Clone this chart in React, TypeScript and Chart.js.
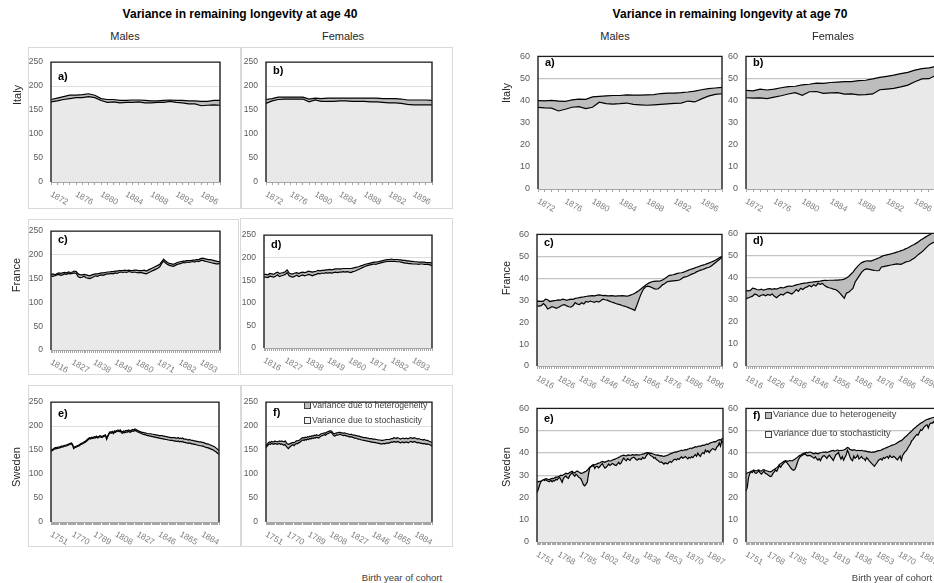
import React, { useEffect, useRef } from "react";
import { Chart, registerables } from "chart.js";

Chart.register(...registerables);

// ---------- categories ----------
const range = (a: number, b: number) => {
  const out: string[] = [];
  for (let y = a; y <= b; y++) out.push(String(y));
  return out;
};
const italyYears = range(1872, 1899);
const franceYears = range(1816, 1903);
const swedenYears = range(1751, 1899);

// ---------- Age 40: Italy ----------
const it40M_stoch = [167,169,172,174,176,176,178,176,170,166,167,165,166,166,167,165,165,166,166,168,166,165,163,163,159,160,161,160];
const it40M_total = [172,175,178,181,181,182,184,181,174,172,172,170,170,171,171,170,169,169,170,171,170,170,169,169,168,168,170,170];
const it40F_stoch = [164,169,172,173,173,173,173,167,171,168,168,168,169,169,168,168,168,167,167,166,165,165,164,162,161,161,161,161];
const it40F_total = [172,174,177,177,177,177,177,173,175,174,175,175,175,175,175,175,175,175,175,174,174,174,173,171,171,171,171,170];

// ---------- Age 40: France ----------
const fr40M_stoch = [
  156,155,156,158,159,157,158,160,159,161,
  160,161,162,161,154,152,153,155,152,151,
  150,152,154,156,155,157,158,157,159,160,
  160,161,160,162,161,163,164,163,164,163,
  165,164,163,164,163,162,163,162,161,160,
  162,164,166,168,170,172,175,182,187,183,
  180,178,177,176,178,180,181,182,184,183,
  185,184,185,186,185,187,186,188,189,187,
  186,185,184,183,182,181,181,182];
const fr40M_total = [
  159,160,158,160,162,161,162,163,162,164,
  163,164,166,165,160,158,158,159,158,157,
  156,158,159,160,160,161,162,162,163,164,
  164,165,165,166,166,167,167,167,168,167,
  168,167,167,168,168,167,167,167,168,166,
  168,170,172,174,176,178,180,186,191,187,
  184,182,181,180,182,184,185,186,187,187,
  188,188,188,189,189,190,190,192,193,192,
  191,190,190,189,188,187,186,186];
const fr40F_stoch = [
  157,157,156,159,158,157,159,162,158,160,
  161,163,167,160,158,157,159,161,158,160,
  162,160,161,163,162,160,162,163,165,164,
  166,165,167,166,167,166,167,168,167,168,
  168,169,168,169,168,167,169,170,172,174,
  176,178,180,182,183,184,185,186,185,187,
  188,189,190,191,192,192,192,192,192,191,
  191,190,189,188,188,187,187,186,186,186,
  185,186,186,185,185,185,184,182];
const fr40F_total = [
  163,163,162,165,164,163,166,168,165,166,
  167,169,173,166,164,164,166,167,165,167,
  168,167,168,170,169,168,169,170,172,171,
  172,172,173,173,174,173,174,175,175,175,
  175,176,176,176,176,176,177,178,179,180,
  182,183,185,186,187,188,189,190,190,191,
  192,193,194,195,196,196,197,196,196,196,
  195,195,194,194,193,193,192,192,191,191,
  190,190,190,190,189,189,189,188];

// ---------- Age 40: Sweden ----------
const sw40M_stoch = [
  147,149,150,152,153,153,154,154,155,156,
  156,157,158,158,159,160,161,162,163,160,
  153,155,156,157,158,159,161,162,163,165,
  166,168,170,172,174,173,175,174,176,175,
  177,175,176,178,177,176,178,179,180,172,
  178,183,186,185,187,184,188,187,189,190,
  188,190,186,185,187,186,188,187,189,188,
  187,189,190,189,191,190,188,187,186,185,
  184,183,182,182,181,180,180,179,179,178,
  178,177,177,176,176,175,175,174,174,173,
  173,172,172,171,171,170,170,170,169,169,
  168,168,169,167,168,167,168,166,166,165,
  165,164,165,164,163,163,162,162,161,160,
  160,159,159,158,158,157,156,155,155,154,
  153,152,151,150,148,147,145,143,141];
const sw40M_total = [
  149,151,152,154,155,155,156,156,157,158,
  158,159,160,160,161,162,163,164,165,162,
  155,157,158,159,160,161,163,164,165,167,
  168,170,172,174,176,175,177,176,178,177,
  179,177,178,180,179,178,180,181,182,174,
  180,185,188,187,189,186,190,189,191,192,
  190,192,189,188,190,189,191,190,192,191,
  190,192,193,192,194,193,191,190,189,188,
  187,187,186,186,185,184,184,184,184,183,
  183,182,182,181,181,180,180,180,180,179,
  179,178,178,177,177,176,176,176,176,176,
  175,175,176,174,175,174,175,173,173,173,
  172,171,172,171,170,170,169,169,168,168,
  167,167,167,166,166,165,164,163,163,162,
  161,160,159,158,157,155,153,151,149];
const sw40F_stoch = [
  155,158,161,163,162,164,163,162,164,163,
  162,163,164,162,163,161,160,162,158,155,
  153,156,158,160,161,159,162,164,163,165,
  166,168,170,171,170,172,171,173,172,174,
  173,175,174,176,175,177,176,175,177,179,
  180,181,182,181,183,184,185,186,187,185,
  181,179,180,182,181,182,183,182,181,180,
  181,180,179,179,178,177,178,177,176,175,
  175,174,173,173,172,171,171,170,170,169,
  169,168,168,167,167,166,166,166,165,165,
  164,164,163,163,163,164,163,164,165,164,
  165,166,167,166,168,167,166,168,167,166,
  165,166,167,165,166,167,166,165,167,168,
  167,166,168,167,166,165,166,165,164,164,
  163,164,163,162,163,162,161,160,158];
const sw40F_total = [
  158,162,165,167,166,168,167,167,169,168,
  167,168,169,168,169,168,167,169,166,163,
  162,163,164,165,166,165,167,169,169,170,
  171,173,175,176,175,177,176,178,177,179,
  178,180,179,181,180,182,181,180,182,184,
  184,185,186,185,187,188,189,190,190,188,
  185,184,185,186,186,187,187,186,186,185,
  186,185,184,184,183,182,183,182,181,181,
  180,180,179,179,178,177,177,176,176,176,
  175,175,174,174,174,173,173,173,172,172,
  171,171,171,170,170,171,171,172,172,172,
  172,173,174,174,176,175,174,176,175,174,
  173,174,175,174,174,175,174,174,175,176,
  175,174,176,175,174,173,174,173,172,172,
  171,172,171,170,170,169,168,167,165];

// ---------- Age 70: Italy ----------
const it70M_stoch = [36.9,36.7,36.6,35.3,36.1,37.0,37.3,36.4,37.0,39.3,38.6,38.4,38.6,38.9,38.3,38.1,37.9,38.1,38.3,38.5,38.7,38.9,39.8,39.4,40.8,42.0,42.8,43.1];
const it70M_total = [40.0,39.9,40.1,39.8,39.6,40.3,40.7,40.6,41.7,41.9,42.1,42.3,42.3,42.6,42.5,42.5,42.6,42.7,43.2,43.4,43.4,43.6,43.9,44.3,44.9,45.4,45.7,46.0];
const it70F_stoch = [41.3,41.1,41.2,40.9,41.6,42.2,43.0,43.6,42.4,44.0,44.1,43.3,43.5,43.6,42.9,43.0,42.6,42.7,43.0,44.9,45.2,45.5,46.2,47.0,48.5,49.8,49.9,51.5];
const it70F_total = [44.6,44.4,45.2,44.8,45.2,45.8,46.3,46.5,47.1,47.4,47.9,47.8,48.2,48.4,48.6,48.6,49.0,49.2,49.8,50.5,51.0,51.5,52.2,52.8,53.8,54.5,54.8,55.5];

// ---------- Age 70: France ----------
const fr70M_stoch = [
  27.4,27.3,27.5,28.5,27.6,26.0,26.4,27.1,26.8,26.3,
  26.7,27.2,27.8,28.0,27.4,27.0,26.8,27.6,28.9,28.2,
  28.0,28.8,28.3,29.4,29.1,29.6,29.3,29.0,29.5,29.1,
  29.8,30.5,30.2,30.0,29.6,29.2,28.9,28.5,28.2,28.0,
  27.6,27.3,27.0,26.6,26.2,25.8,25.3,27.8,30.5,33.0,
  35.0,36.0,36.4,36.2,35.8,35.3,35.0,35.2,36.0,37.0,
  37.5,38.3,38.6,38.7,38.8,38.9,39.0,39.2,39.8,40.5,
  40.6,41.0,41.5,42.0,42.3,42.9,43.3,43.7,44.0,44.4,
  44.8,45.0,45.6,46.4,47.2,48.0,48.8,49.6];
const fr70M_total = [
  29.6,29.5,29.4,29.6,30.5,30.2,29.4,29.6,29.8,29.9,
  30.1,30.0,30.5,30.3,29.9,30.3,30.5,30.4,30.8,31.0,
  31.2,31.4,31.5,31.7,31.9,32.0,32.1,32.0,32.2,32.4,
  32.3,32.1,32.2,32.0,32.0,32.1,32.0,31.9,32.0,32.0,
  32.1,32.0,31.9,32.0,32.3,32.7,33.2,33.8,34.4,35.2,
  36.0,36.8,37.5,38.0,38.4,38.6,38.7,38.7,38.8,39.2,
  39.8,40.5,41.2,41.4,41.6,41.9,42.2,42.4,42.5,42.8,
  43.2,43.6,44.0,44.3,44.6,45.0,45.3,45.7,46.0,46.3,
  46.7,47.0,47.4,47.8,48.3,48.9,49.5,50.0];
const fr70F_stoch = [
  30.5,30.8,31.2,31.6,32.6,32.2,31.4,32.0,32.3,31.8,
  32.4,32.0,32.6,31.5,30.9,31.8,32.5,32.1,32.9,33.4,
  33.0,32.6,33.4,34.6,33.8,35.2,34.6,35.4,35.8,36.4,
  35.9,36.8,36.2,37.4,37.0,37.4,36.4,35.8,35.4,35.2,
  34.8,34.6,33.9,33.0,31.8,30.6,33.0,33.4,34.2,35.2,
  38.0,39.5,41.0,42.5,43.4,43.9,43.8,43.6,43.4,43.2,
  43.1,43.2,44.8,45.0,45.2,45.4,45.6,45.8,46.0,46.2,
  46.1,46.0,46.5,47.0,47.3,47.5,48.2,48.8,49.6,50.5,
  51.2,52.0,53.0,54.0,54.9,55.5,56.0,56.2];
const fr70F_total = [
  34.1,34.0,34.2,35.2,35.0,34.6,34.4,34.8,34.3,34.6,
  34.9,35.0,34.7,35.0,34.8,35.2,35.6,35.3,35.7,36.0,
  36.2,36.0,36.4,36.7,36.9,37.2,37.4,37.5,37.6,37.8,
  37.9,38.1,38.2,38.3,38.4,38.6,38.7,38.7,38.8,38.8,
  38.8,38.9,38.9,39.0,39.1,39.3,39.8,40.5,41.5,42.5,
  43.8,45.0,46.0,46.8,47.2,47.5,47.6,47.5,47.8,48.2,
  48.6,49.0,49.5,50.0,50.2,50.4,50.6,50.9,51.2,51.5,
  51.8,52.2,52.5,53.0,53.4,54.0,54.5,55.0,55.6,56.2,
  57.0,57.6,58.2,58.8,59.4,60.0,60.5,61.0];

// ---------- Age 70: Sweden ----------
const sw70M_stoch = [
  22.2,23.6,25.5,27.0,27.5,28.0,27.6,28.0,27.5,27.2,
  27.1,27.8,27.0,27.6,27.4,28.2,27.9,28.6,29.0,28.0,
  26.8,28.5,29.2,29.7,28.9,28.6,29.8,30.5,31.2,30.1,
  29.5,30.4,30.0,29.2,28.8,28.3,27.0,25.7,25.2,26.0,
  26.8,30.5,33.3,33.8,34.1,34.3,33.0,33.9,34.0,33.3,
  33.9,34.6,35.2,34.1,33.2,33.6,34.2,35.0,34.4,34.8,
  35.3,34.9,34.5,34.3,35.1,35.8,35.0,35.5,36.8,37.7,
  37.0,36.5,37.4,37.0,36.6,37.5,37.8,38.1,37.6,37.0,
  36.8,37.4,37.2,37.0,38.0,37.5,37.7,38.8,39.5,39.9,
  39.0,38.6,38.4,37.6,37.9,37.0,36.7,36.2,35.8,36.0,
  35.5,35.0,35.6,35.3,35.1,35.8,36.2,35.7,36.4,37.0,
  37.2,36.8,37.5,37.1,37.7,38.2,37.6,38.0,38.4,37.9,
  37.3,38.0,37.7,38.3,37.9,38.7,39.2,38.5,39.9,39.0,
  38.4,39.6,40.2,39.7,41.3,40.5,41.0,40.1,40.9,41.6,
  42.0,41.5,41.3,42.6,43.1,44.5,43.0,45.5,44.2];
const sw70M_total = [
  27.0,27.1,27.2,27.3,27.5,27.8,28.2,28.5,28.3,28.0,
  28.1,28.4,28.6,28.5,28.8,29.2,29.0,29.4,29.6,30.0,
  29.8,30.2,30.5,30.9,30.6,30.8,31.2,31.5,31.8,31.2,
  31.0,31.6,31.9,31.5,31.2,30.8,30.9,31.2,31.5,31.8,
  32.2,33.0,33.6,34.0,34.5,34.8,34.6,34.9,35.2,35.4,
  35.6,35.9,36.2,36.0,35.8,36.1,36.4,36.6,36.3,36.5,
  36.8,37.0,37.2,37.5,37.7,38.0,38.3,38.7,38.8,39.0,
  38.8,38.7,39.0,39.1,38.9,39.0,39.2,39.1,39.0,39.2,
  39.1,39.0,39.2,39.3,39.5,39.6,39.8,40.0,40.1,40.0,
  39.8,39.9,39.6,39.4,39.2,39.0,39.1,38.9,38.7,38.8,
  38.6,38.5,38.7,38.8,39.0,39.3,39.6,39.8,40.0,40.3,
  40.5,40.4,40.7,40.8,41.0,41.2,41.0,41.3,41.5,41.4,
  41.7,41.9,42.2,42.0,42.3,42.5,42.8,42.6,43.0,43.1,
  43.0,43.3,43.5,43.4,43.7,44.0,43.8,44.2,44.5,44.7,
  44.9,45.1,45.0,45.4,45.7,46.0,45.8,46.3,46.6];
const sw70F_stoch = [
  22.9,24.5,29.0,30.8,31.5,31.2,32.1,31.0,30.8,31.4,
  31.9,31.0,30.5,31.2,31.8,30.9,30.6,30.2,29.8,29.4,
  29.6,30.8,31.5,32.3,31.8,33.0,34.2,33.6,34.5,35.2,
  35.8,36.2,35.5,34.8,34.0,33.1,32.6,32.2,32.5,33.8,
  35.6,37.2,38.1,38.6,39.0,39.3,39.6,39.0,38.7,38.9,
  38.8,38.5,38.0,37.6,38.3,37.4,36.8,37.4,36.5,37.8,
  38.6,38.8,38.2,37.5,38.4,39.0,38.1,37.4,36.6,38.0,
  39.2,39.6,40.3,38.5,37.2,38.4,36.7,37.9,39.1,41.2,
  39.9,38.2,37.0,36.5,38.6,37.6,38.1,39.0,37.3,37.8,
  38.4,37.5,37.4,36.6,37.9,37.2,36.4,35.9,35.2,34.6,
  34.0,34.8,35.6,36.5,37.1,37.4,36.8,37.9,37.5,38.1,
  38.4,37.6,38.8,38.2,37.9,38.5,38.1,37.4,36.9,37.8,
  38.6,36.7,38.9,39.8,40.6,41.0,42.2,43.1,44.0,45.4,
  46.0,46.9,47.5,48.3,48.0,49.2,50.4,50.1,51.0,51.8,
  52.3,52.6,51.2,52.9,53.5,53.3,54.0,53.1,52.6];
const sw70F_total = [
  30.6,31.0,31.2,31.4,31.8,32.0,32.3,32.1,31.9,32.2,
  32.4,32.0,31.8,32.3,32.5,32.1,32.0,31.8,31.6,31.5,
  31.8,32.2,32.6,33.0,33.4,34.0,34.8,35.2,35.6,36.0,
  36.3,36.5,36.2,36.4,36.6,36.5,36.4,36.8,37.2,37.6,
  38.0,38.5,38.9,39.2,39.6,39.8,40.0,40.2,40.0,40.3,
  40.4,40.2,39.8,39.6,40.0,39.8,39.6,39.9,40.1,40.2,
  40.4,40.3,40.5,40.2,40.4,40.6,40.8,41.0,41.1,40.8,
  41.0,41.3,41.2,41.0,41.2,41.1,41.3,41.5,42.0,42.5,
  42.2,41.6,41.4,41.2,41.5,41.3,41.0,41.2,41.1,41.0,
  41.2,41.0,40.8,40.9,40.7,40.5,40.6,40.4,40.3,40.5,
  40.4,40.6,40.8,41.0,41.0,41.2,41.5,41.8,42.0,42.3,
  42.5,42.8,43.0,43.3,43.5,43.7,43.9,44.2,44.6,45.0,
  45.3,45.5,46.0,46.6,47.2,47.6,48.2,48.8,49.3,49.8,
  50.4,51.0,51.4,52.0,52.4,52.9,53.3,53.6,54.0,54.4,
  54.8,55.0,55.2,55.4,55.6,55.8,55.9,56.0,55.8];

// ---------- styling constants ----------
const FONT = '"Liberation Sans", Arial, sans-serif';
const LIGHT = "#e9e9e9";
const BAND = "#bdbdbd";

type Spec = {
  key: string;
  letter: string;
  letterDy: number;
  labels: string[];
  lower: number[];
  upper: number[];
  yMax: number;
  yStep: number;
  every: number;
  l: number; t: number; r: number; b: number;
  old: boolean;
};

const specs: Spec[] = [
  { key: "a40", letter: "a)", letterDy: 19, labels: italyYears, lower: it40M_stoch, upper: it40M_total, yMax: 250, yStep: 50, every: 4, l: 51, t: 57, r: 220, b: 182, old: false },
  { key: "b40", letter: "b)", letterDy: 13, labels: italyYears, lower: it40F_stoch, upper: it40F_total, yMax: 250, yStep: 50, every: 4, l: 266, t: 57, r: 432, b: 182, old: false },
  { key: "c40", letter: "c)", letterDy: 13, labels: franceYears, lower: fr40M_stoch, upper: fr40M_total, yMax: 250, yStep: 50, every: 11, l: 51, t: 226, r: 220, b: 350, old: false },
  { key: "d40", letter: "d)", letterDy: 14, labels: franceYears, lower: fr40F_stoch, upper: fr40F_total, yMax: 250, yStep: 50, every: 11, l: 264, t: 230, r: 432, b: 348, old: false },
  { key: "e40", letter: "e)", letterDy: 16, labels: swedenYears, lower: sw40M_stoch, upper: sw40M_total, yMax: 250, yStep: 50, every: 19, l: 51, t: 397, r: 219, b: 522, old: false },
  { key: "f40", letter: "f)", letterDy: 15, labels: swedenYears, lower: sw40F_stoch, upper: sw40F_total, yMax: 250, yStep: 50, every: 19, l: 266, t: 397, r: 432, b: 522, old: false },
  { key: "a70", letter: "a)", letterDy: 11, labels: italyYears, lower: it70M_stoch, upper: it70M_total, yMax: 60, yStep: 10, every: 4, l: 538, t: 51, r: 722, b: 189, old: true },
  { key: "b70", letter: "b)", letterDy: 11, labels: italyYears, lower: it70F_stoch, upper: it70F_total, yMax: 60, yStep: 10, every: 4, l: 746, t: 51, r: 936, b: 189, old: true },
  { key: "c70", letter: "c)", letterDy: 13, labels: franceYears, lower: fr70M_stoch, upper: fr70M_total, yMax: 60, yStep: 10, every: 10, l: 537, t: 229, r: 722, b: 366, old: true },
  { key: "d70", letter: "d)", letterDy: 12, labels: franceYears, lower: fr70F_stoch, upper: fr70F_total, yMax: 60, yStep: 10, every: 10, l: 746, t: 228, r: 936, b: 366, old: true },
  { key: "e70", letter: "e)", letterDy: 15, labels: swedenYears, lower: sw70M_stoch, upper: sw70M_total, yMax: 60, yStep: 10, every: 17, l: 537, t: 403, r: 723, b: 542, old: true },
  { key: "f70", letter: "f)", letterDy: 12, labels: swedenYears, lower: sw70F_stoch, upper: sw70F_total, yMax: 60, yStep: 10, every: 17, l: 746, t: 403, r: 936, b: 542, old: true },
];

const AXW = 32; // y-axis width
const PT = 8;   // top padding
const PR = 6;   // right padding
const PB = 30;  // bottom padding (rotated labels)
const XH = 4;   // x-axis height (tick marks)

const framePlugin = {
  id: "frameLabels",
  afterDraw(chart: any, _a: any, opts: any) {
    const { ctx, chartArea } = chart;
    const xs = chart.scales.x;
    const labels = chart.data.labels as string[];
    ctx.save();
    // frame (top, left, right)
    ctx.strokeStyle = "#1e1e1e";
    ctx.lineWidth = 1.4;
    ctx.beginPath();
    ctx.moveTo(chartArea.left, chartArea.bottom);
    ctx.lineTo(chartArea.left, chartArea.top);
    ctx.lineTo(chartArea.right, chartArea.top);
    ctx.lineTo(chartArea.right, chartArea.bottom);
    ctx.stroke();
    // rotated category labels
    ctx.font = `${opts.size}px ${FONT}`;
    ctx.fillStyle = "#808080";
    ctx.textAlign = "left";
    ctx.textBaseline = "top";
    for (let i = 0; i < labels.length; i += opts.every) {
      const px = xs.getPixelForValue(i);
      ctx.save();
      ctx.translate(px + 2, chartArea.bottom + 8);
      ctx.rotate((30 * Math.PI) / 180);
      ctx.fillText(String(labels[i]), 0, 0);
      ctx.restore();
    }
    ctx.restore();
  },
};

function Panel({ s }: { s: Spec }) {
  const ref = useRef<HTMLCanvasElement>(null);
  const w = s.r - s.l + AXW + PR;
  const h = s.b - s.t + PT + PB + XH;
  useEffect(() => {
    const chart = new Chart(ref.current as HTMLCanvasElement, {
      type: "line",
      data: {
        labels: s.labels,
        datasets: [
          { data: s.lower, borderColor: "#000", borderWidth: 1.2, backgroundColor: LIGHT, fill: "origin", pointRadius: 0, tension: 0 },
          { data: s.upper, borderColor: "#000", borderWidth: 1.2, backgroundColor: BAND, fill: "-1", pointRadius: 0, tension: 0 },
        ],
      },
      options: {
        animation: false,
        responsive: false,
        maintainAspectRatio: false,
        events: [],
        layout: { padding: { left: 0, top: PT, right: PR, bottom: PB } },
        plugins: {
          legend: { display: false },
          tooltip: { enabled: false },
          frameLabels: { every: s.every, size: s.old ? 8.5 : 8.5 },
        } as any,
        scales: {
          x: {
            type: "category",
            offset: false,
            grid: { display: true, drawOnChartArea: false, drawTicks: true, tickLength: 3, color: "#a6a6a6" },
            border: { display: true, color: "#a6a6a6" },
            ticks: { display: false, autoSkip: false },
            afterFit: (sc: any) => { sc.height = XH; },
          },
          y: {
            min: 0,
            max: s.yMax,
            ticks: { stepSize: s.yStep, color: "#595959", padding: 8, font: { family: FONT, size: s.old ? 9 : 8.5 } },
            grid: { color: s.old ? "#c4c4c4" : "#dedede", lineWidth: s.old ? 1.3 : 1, drawTicks: false },
            border: { display: false },
            afterFit: (sc: any) => { sc.width = AXW; },
          },
        },
      } as any,
      plugins: [framePlugin as any],
    });
    return () => chart.destroy();
  }, []);
  return (
    <canvas
      ref={ref}
      width={w}
      height={h}
      style={{ position: "absolute", left: s.l - AXW, top: s.t - PT, width: w, height: h }}
    />
  );
}

function Txt(props: { x: number; y: number; text: string; size?: number; bold?: boolean; color?: string; rotate?: number; left?: boolean }) {
  const { x, y, text, size = 11, bold = false, color = "#262626", rotate = 0, left = false } = props;
  return (
    <div
      style={{
        position: "absolute",
        left: x,
        top: y,
        transform: `translate(${left ? "0" : "-50%"}, -50%) rotate(${rotate}deg)`,
        fontSize: size,
        fontWeight: bold ? 700 : 400,
        color,
        whiteSpace: "nowrap",
        lineHeight: 1,
        fontFamily: FONT,
      }}
    >
      {text}
    </div>
  );
}

function LegendItem({ x, y, fill, text, size }: { x: number; y: number; fill: string; text: string; size: number }) {
  return (
    <>
      <div style={{ position: "absolute", left: x, top: y - 3, width: 5, height: 5, border: "1px solid #404040", background: fill }} />
      <Txt x={x + 8} y={y} text={text} size={size} color="#404040" left />
    </>
  );
}

const boxes = [
  [28, 47, 241, 209],
  [241, 47, 453, 209],
  [28, 219, 239, 375],
  [240, 218, 453, 375],
  [28, 385, 241, 547],
  [241, 385, 453, 547],
];

export default function App() {
  return (
    <div style={{ position: "absolute", left: 0, top: 0, width: 934, height: 583, overflow: "hidden", background: "#fff", fontFamily: FONT }}>
      {boxes.map((b, i) => (
        <div key={i} style={{ position: "absolute", left: b[0], top: b[1], width: b[2] - b[0], height: b[3] - b[1], border: "1px solid #d9d9d9", boxSizing: "border-box" }} />
      ))}
      {specs.map((s) => (
        <Panel key={s.key} s={s} />
      ))}
      {specs.map((s) => (
        <Txt key={s.key + "L"} x={s.l + 7} y={s.t + s.letterDy} text={s.letter} size={11} bold color="#000" left />
      ))}

      <Txt x={240} y={14} text="Variance in remaining longevity at age 40" size={12} bold color="#000" />
      <Txt x={730} y={14} text="Variance in remaining longevity at age 70" size={12} bold color="#000" />
      <Txt x={125} y={36} text="Males" size={11} />
      <Txt x={343} y={36} text="Females" size={11} />
      <Txt x={615} y={36} text="Males" size={11} />
      <Txt x={833} y={36} text="Females" size={11} />

      <Txt x={17} y={95} text="Italy" size={11} rotate={-90} />
      <Txt x={16} y={275} text="France" size={11} rotate={-90} />
      <Txt x={16} y={467} text="Sweden" size={11} rotate={-90} />
      <Txt x={506} y={93} text="Italy" size={11} rotate={-90} />
      <Txt x={506} y={278} text="France" size={11} rotate={-90} />
      <Txt x={506} y={467} text="Sweden" size={11} rotate={-90} />

      <LegendItem x={304} y={405} fill={BAND} text="Variance due to heterogeneity" size={8.7} />
      <LegendItem x={304} y={420} fill="#f4f4f4" text="Variance due to stochasticity" size={8.7} />
      <LegendItem x={765} y={415} fill={BAND} text="Variance due to heterogeneity" size={9.3} />
      <LegendItem x={765} y={434} fill="#f4f4f4" text="Variance due to stochasticity" size={9.3} />

      <Txt x={402} y={578} text="Birth year of cohort" size={9.5} color="#404040" />
      <Txt x={892} y={578} text="Birth year of cohort" size={9.5} color="#404040" />
    </div>
  );
}
